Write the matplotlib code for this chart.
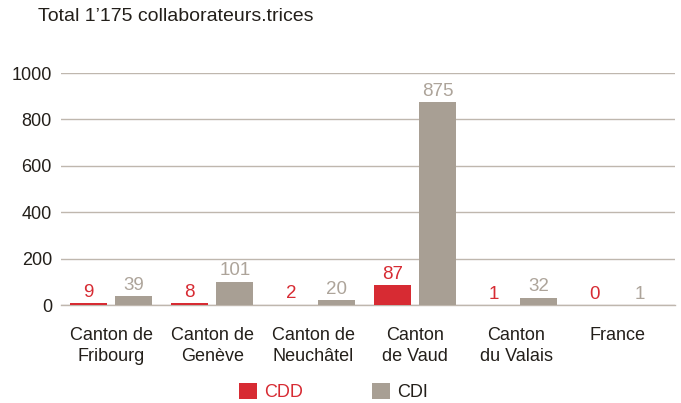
import matplotlib
matplotlib.use("Agg")
import matplotlib.pyplot as plt
import numpy as np

plt.rcParams['font.family'] = ['Liberation Sans', 'DejaVu Sans']

categories = ["Canton de\nFribourg", "Canton de\nGenève", "Canton de\nNeuchâtel",
              "Canton\nde Vaud", "Canton\ndu Valais", "France"]
cdd = [9, 8, 2, 87, 1, 0]
cdi = [39, 101, 20, 875, 32, 1]
yticks = [0, 200, 400, 600, 800, 1000]
title = "Total 1’175 collaborateurs.trices"

red = "#D72B33"
grey = "#A89F94"
grey_lbl = "#ADA49A"
grid_c = "#BFB7AE"
txt_c = "#231F1A"

fig = plt.figure(figsize=(6.81, 4.03), dpi=100)
ax = fig.add_axes([61/681, 1 - 305/403, 614/681, (305-73)/403])

x = np.arange(len(categories))
w = 0.366
off = 0.223
b1 = ax.bar(x - off, cdd, w, color=red, label="CDD", zorder=3)
b2 = ax.bar(x + off, cdi, w, color=grey, label="CDI", zorder=3)

for xi, v in zip(x, cdd):
    ax.annotate(str(v), (xi - off, v), xytext=(0, 4.5), textcoords='offset points',
                ha='center', va='baseline', color=red, fontsize=13.5)
for xi, v in zip(x, cdi):
    ax.annotate(str(v), (xi + off, v), xytext=(0, 4.5), textcoords='offset points',
                ha='center', va='baseline', color=grey_lbl, fontsize=13.5)

ax.set_xlim(-0.494, 5.568)
ax.set_ylim(0, 1000)
ax.set_yticks(yticks)
ax.set_yticklabels([str(t) for t in yticks], fontsize=13, color=txt_c)
ax.yaxis.grid(True, color=grid_c, linewidth=1, zorder=0)
ax.set_axisbelow(True)
ax.tick_params(axis='y', length=0, pad=6.5)
ax.tick_params(axis='x', length=0, pad=15.5)
ax.set_xticks(x)
ax.set_xticklabels(categories, fontsize=13, color=txt_c, va='top', linespacing=1.32)
for s in ['top', 'right', 'left']:
    ax.spines[s].set_visible(False)
ax.spines['bottom'].set_color(grid_c)
ax.spines['bottom'].set_linewidth(1)

fig.text(38/681, 1 - 16.5/403, title, fontsize=14, color=txt_c, va='center', ha='left')

leg = fig.legend(handles=[b1, b2], loc='center left', bbox_to_anchor=(239/681, 1 - 392/403),
                 ncol=2, frameon=False, fontsize=13, handlelength=1.0, handleheight=1.0,
                 columnspacing=3.83, handletextpad=0.39, borderpad=0, borderaxespad=0)
leg.get_texts()[0].set_color(red)
leg.get_texts()[1].set_color(txt_c)

fig.savefig("out.png", dpi=100)
